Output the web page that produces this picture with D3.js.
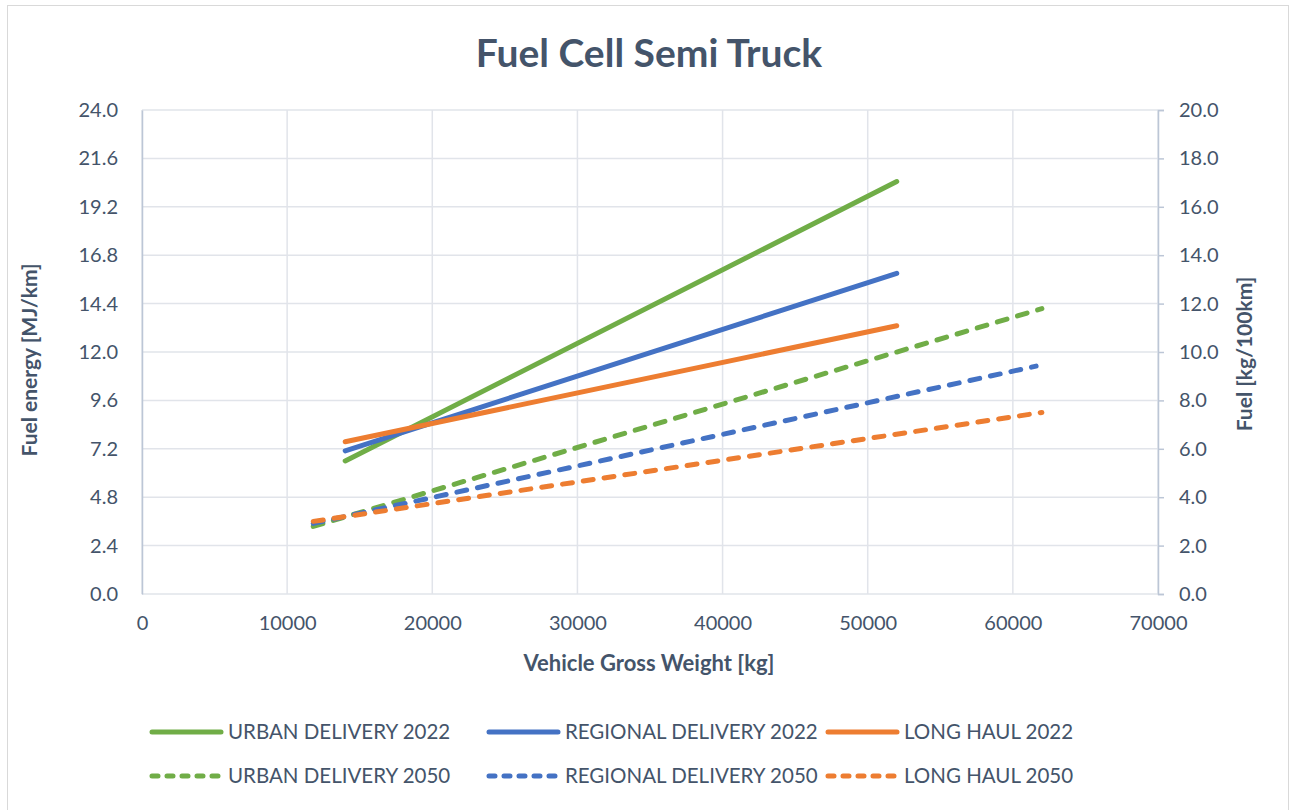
<!DOCTYPE html>
<meta charset="utf-8">
<script src="https://d3js.org/d3.v7.min.js"></script>
<style>
  body { margin: 0; background: #fff; }
  text { font-family: Lato, "Open Sans", sans-serif; fill: #44546A; }
</style>
<div id="chart"></div>
<script>
// chart values
const seriesNames = ["URBAN DELIVERY 2022", "REGIONAL DELIVERY 2022", "LONG HAUL 2022",
                     "URBAN DELIVERY 2050", "REGIONAL DELIVERY 2050", "LONG HAUL 2050"];
const weights = [
  [14000, 52000], [14000, 52000], [14000, 52000],
  [11800, 62000], [11800, 61600], [11800, 62000]
];
const energy = [
  [6.6, 20.45], [7.1, 15.9], [7.55, 13.3],
  [3.35, 14.15], [3.5, 11.3], [3.6, 9.0]
];
const xTicks = [0, 10000, 20000, 30000, 40000, 50000, 60000, 70000];
const yLeftTicks = [0, 2.4, 4.8, 7.2, 9.6, 12.0, 14.4, 16.8, 19.2, 21.6, 24.0];
const yRightTicks = [0, 2, 4, 6, 8, 10, 12, 14, 16, 18, 20];

const colors = ["#70AD47", "#4472C4", "#ED7D31", "#70AD47", "#4472C4", "#ED7D31"];
const dashed = [false, false, false, true, true, true];

const W = 1292, H = 810;
const margin = {top: 110, right: 134, bottom: 216, left: 142};
const width = W - margin.left - margin.right,
      height = H - margin.top - margin.bottom;

const svg = d3.select("#chart").append("svg")
  .attr("width", W).attr("height", H);

// outer frame
svg.append("rect").attr("x", 7.5).attr("y", 5.5).attr("width", W - 11).attr("height", H - 4)
  .attr("fill", "none").attr("stroke", "#d9d9d9");

svg.append("text").attr("x", 649).attr("y", 67).attr("text-anchor", "middle")
  .style("font-size", "39px").style("font-weight", "bold").text("Fuel Cell Semi Truck");

const g = svg.append("g").attr("transform", `translate(${margin.left},${margin.top})`);

const x = d3.scaleLinear().domain([0, 70000]).range([0, width]);
const y = d3.scaleLinear().domain([0, 24]).range([height, 0]);
const y2 = d3.scaleLinear().domain([0, 20]).range([height, 0]);

// gridlines
g.append("g").selectAll("line").data(yLeftTicks).join("line")
  .attr("x1", 0).attr("x2", width).attr("y1", d => y(d)).attr("y2", d => y(d))
  .attr("stroke", "#E1E4EA").attr("stroke-width", 1.5);
g.append("g").selectAll("line").data(xTicks).join("line")
  .attr("x1", d => x(d)).attr("x2", d => x(d)).attr("y1", 0).attr("y2", height)
  .attr("stroke", "#E1E4EA").attr("stroke-width", 1.5);

// left axis
const yAxisL = g.append("g").call(d3.axisLeft(y).tickValues(yLeftTicks).tickFormat(d3.format(".1f")).tickSize(0).tickPadding(24));
yAxisL.select(".domain").attr("stroke", "#BCC6D6").attr("stroke-width", 1.5);
yAxisL.selectAll("text").style("font-size", "20px").attr("fill", "#44546A");

// right axis
const yAxisR = g.append("g").attr("transform", `translate(${width},0)`)
  .call(d3.axisRight(y2).tickValues(yRightTicks).tickFormat(d3.format(".1f")).tickSize(6).tickSizeOuter(6).tickPadding(15));
yAxisR.select(".domain").attr("stroke", "#BCC6D6").attr("stroke-width", 1.5);
yAxisR.selectAll(".tick line").attr("stroke", "#BCC6D6").attr("stroke-width", 1.5);
yAxisR.selectAll("text").style("font-size", "20px").attr("fill", "#44546A");

// bottom axis
const xAxis = g.append("g").attr("transform", `translate(0,${height})`)
  .call(d3.axisBottom(x).tickValues(xTicks).tickFormat(d3.format("d")).tickSize(0).tickPadding(22));
xAxis.select(".domain").remove();
xAxis.selectAll("text").style("font-size", "20px").attr("fill", "#44546A");

// axis titles
svg.append("text").attr("transform", "translate(37,360) rotate(-90)").attr("text-anchor", "middle")
  .style("font-size", "21px").style("font-weight", "bold").text("Fuel energy [MJ/km]");
svg.append("text").attr("transform", "translate(1252,354) rotate(-90)").attr("text-anchor", "middle")
  .style("font-size", "21px").style("font-weight", "bold").text("Fuel [kg/100km]");
svg.append("text").attr("x", 649).attr("y", 671).attr("text-anchor", "middle")
  .style("font-size", "22px").style("font-weight", "bold").text("Vehicle Gross Weight [kg]");

// series
const series = seriesNames.map((name, i) => ({
  name, color: colors[i], dashed: dashed[i],
  values: weights[i].map((w, j) => ({w, e: energy[i][j]}))
}));

const line = d3.line().x(d => x(d.w)).y(d => y(d.e));
g.append("g").selectAll("path").data(series).join("path")
  .attr("d", d => line(d.values))
  .attr("fill", "none")
  .attr("stroke", d => d.color)
  .attr("stroke-width", 5)
  .attr("stroke-linecap", "round")
  .attr("stroke-dasharray", d => d.dashed ? "10 11" : null);

// legend
const legendX = [152, 489, 828];
const legendY = [732, 776];
const leg = svg.append("g").selectAll("g").data(series).join("g")
  .attr("transform", (d, i) => `translate(${legendX[i % 3]},${legendY[Math.floor(i / 3)]})`);
leg.append("line").attr("x1", 0).attr("x2", 69).attr("y1", 0).attr("y2", 0)
  .attr("stroke", d => d.color).attr("stroke-width", 5)
  .attr("stroke-linecap", "round")
  .attr("stroke-dasharray", d => d.dashed ? "6 9" : null);
leg.append("text").attr("x", 76).attr("y", 7)
  .style("font-size", "20.5px").text(d => d.name);
</script>
